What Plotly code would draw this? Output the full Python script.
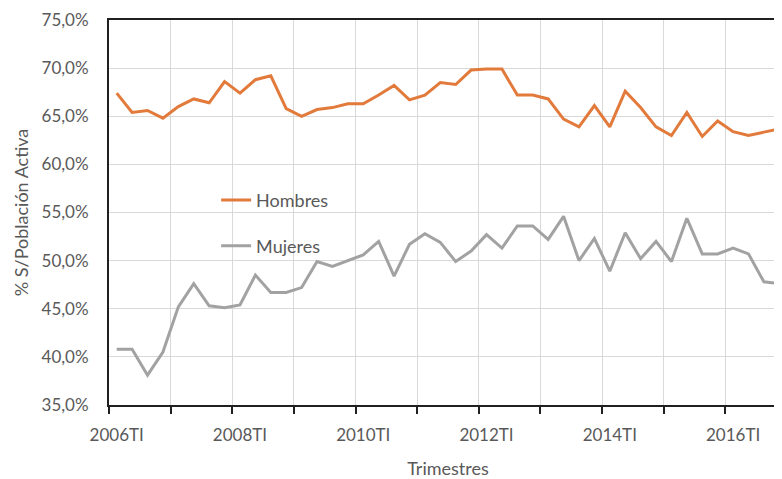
import plotly.graph_objects as go

trimestres = [f"{y}T{q}" for y in range(2006, 2017) for q in ["I", "II", "III", "IV"]]

hombres = [67.4, 65.4, 65.6, 64.8, 66.0, 66.8, 66.4, 68.6, 67.4, 68.8, 69.2, 65.8,
           65.0, 65.7, 65.9, 66.3, 66.3, 67.2, 68.2, 66.7, 67.2, 68.5, 68.3, 69.8,
           69.9, 69.9, 67.2, 67.2, 66.8, 64.7, 63.9, 66.1, 63.9, 67.6, 65.9, 63.9,
           63.0, 65.4, 62.9, 64.5, 63.4, 63.0, 63.35, 63.7]

mujeres = [40.8, 40.8, 38.1, 40.5, 45.2, 47.6, 45.3, 45.1, 45.4, 48.5, 46.7, 46.7,
           47.2, 49.9, 49.4, 50.0, 50.6, 52.0, 48.4, 51.7, 52.8, 51.9, 49.9, 51.0,
           52.7, 51.3, 53.6, 53.6, 52.2, 54.6, 50.0, 52.3, 48.9, 52.9, 50.2, 52.0,
           49.9, 54.4, 50.7, 50.7, 51.3, 50.7, 47.8, 47.6]

FONT = "Lato"
TXT = "#595959"
pos = list(range(len(trimestres)))

fig = go.Figure()
fig.add_trace(go.Scatter(x=pos, y=hombres, mode="lines", name="Hombres",
                         line=dict(color="#E27A3B", width=3), legend="legend",
                         showlegend=True))
fig.add_trace(go.Scatter(x=pos, y=mujeres, mode="lines", name="Mujeres",
                         line=dict(color="#A2A2A2", width=3), legend="legend2",
                         showlegend=True))

fig.update_layout(
    width=782, height=479,
    margin=dict(l=101, r=3, t=12, b=82, autoexpand=False),
    showlegend=True,
    paper_bgcolor="white", plot_bgcolor="white",
    separators=",.",
    font=dict(family=FONT, size=17, color=TXT),
    legend=dict(x=0.158, y=0.532, xanchor="left", yanchor="middle",
                bgcolor="rgba(0,0,0,0)", font=dict(size=18, color=TXT, family=FONT)),
    legend2=dict(x=0.158, y=0.413, xanchor="left", yanchor="middle",
                 bgcolor="rgba(0,0,0,0)", font=dict(size=18, color=TXT, family=FONT)),
    xaxis=dict(
        automargin=False,
        range=[-0.5, len(trimestres) - 0.5],
        tickmode="array", tickvals=pos[::8], ticktext=trimestres[::8],
        ticks="", ticklabelstandoff=14,
        showgrid=False, zeroline=False,
        showline=True, linecolor="#202020", linewidth=2, mirror=True,
        minor=dict(tickvals=[p - 0.5 for p in pos[::4]], ticks="outside", ticklen=7,
                   tickcolor="#202020", tickwidth=1.5,
                   showgrid=True, gridcolor="#D9D9D9", gridwidth=1),
        title=dict(text="Trimestres", standoff=18, font=dict(size=18, color=TXT)),
        tickfont=dict(size=17, color=TXT),
    ),
    yaxis=dict(
        automargin=False,
        range=[35, 75], dtick=5, tick0=35,
        tickformat=".1f", ticksuffix="%",
        ticks="", ticklabelstandoff=15,
        showgrid=True, gridcolor="#D9D9D9", gridwidth=1,
        zeroline=False,
        showline=True, linecolor="#202020", linewidth=2,
        title=dict(text="% S/Población Activa", standoff=8, font=dict(size=18, color=TXT)),
        tickfont=dict(size=17, color=TXT),
    ),
)

fig.write_html(
    "out.html",
    post_script="document.documentElement.style.overflow='hidden';"
                "document.body.style.overflow='hidden';",
)
